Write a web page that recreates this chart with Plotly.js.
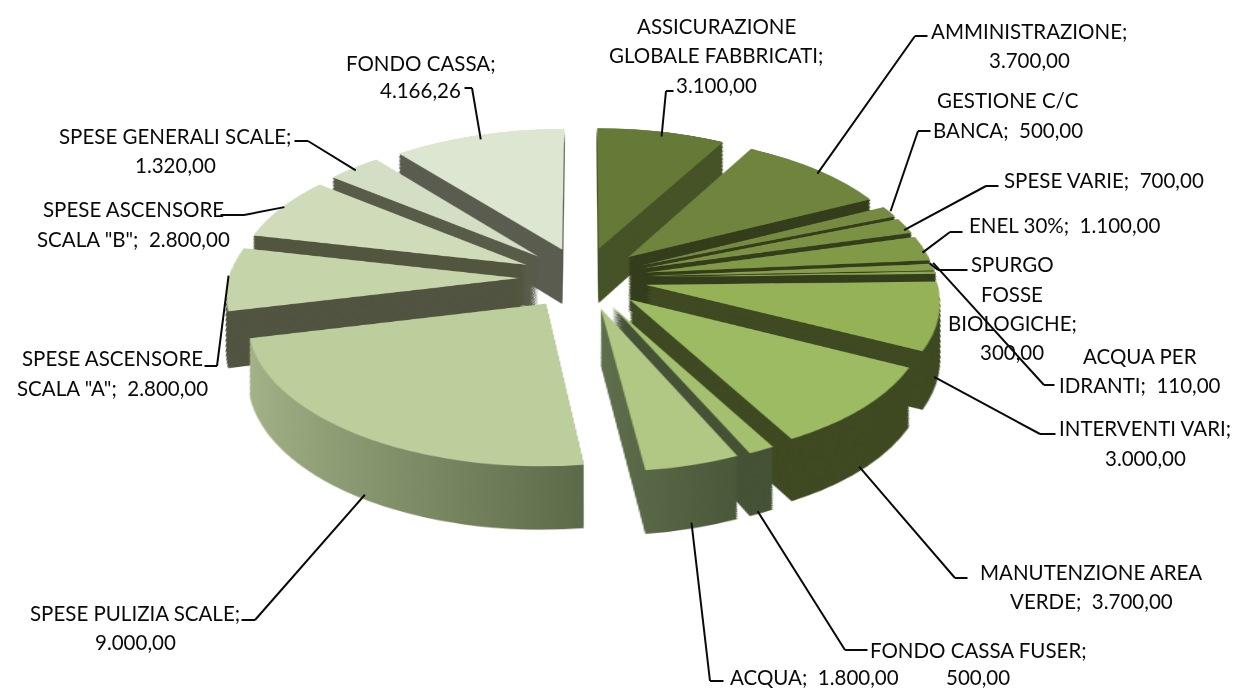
<!DOCTYPE html>
<html><head><meta charset="utf-8">
<script src="https://cdn.plot.ly/plotly-3.0.1.min.js"></script>
<style>html,body{margin:0;padding:0;background:#fff;overflow:hidden}#g{width:1235px;height:689px}</style>
</head><body><div id="g"></div>
<script>
const categories = ["ASSICURAZIONE GLOBALE FABBRICATI","AMMINISTRAZIONE","GESTIONE C/C BANCA","SPESE VARIE","ENEL 30%","SPURGO FOSSE BIOLOGICHE","ACQUA PER IDRANTI","INTERVENTI VARI","MANUTENZIONE AREA VERDE","FONDO CASSA FUSER","ACQUA","SPESE PULIZIA SCALE","SPESE ASCENSORE SCALA \"A\"","SPESE ASCENSORE SCALA \"B\"","SPESE GENERALI SCALE","FONDO CASSA"];
const values = [3100,3700,500,700,1100,300,110,3000,3700,500,1800,9000,2800,2800,1320,4166.26];
const topColors = ["#667a37","#6f853e","#768b41","#7b9244","#819a48","#879f4d","#8ca652","#95b356","#9cbb62","#a4bf6e","#b0c884","#bbce9b","#c5d4a9","#cfdbb9","#d4dec4","#dde6d0"];
const wallColors = ["#465326","#343d1c","#343d1c","#343d1c","#343d1c","#343d1c","#343d1c","#3f4a23","#3f4a23","#465235","#4c5a3d","#7f8e66","#505440","#53563f","#585c49","#5a5d50"];
const explode = 0.22;
const labelLines = [
 ["FONDO CASSA;",421,63],["4.166,26",421,90],
 ["ASSICURAZIONE",716,26],["GLOBALE FABBRICATI;",716,55],["3.100,00",716,85],
 ["AMMINISTRAZIONE;",1029,31],["3.700,00",1029,60],
 ["GESTIONE C/C",1008,100],["BANCA;\u00A0 500,00",1008,130],
 ["SPESE VARIE;\u00A0 700,00",1104,180],
 ["ENEL 30%;\u00A0 1.100,00",1065,225],
 ["SPURGO",1012,264],["FOSSE",1012,294],["BIOLOGICHE;",1012,323],["300,00",1012,352],
 ["ACQUA PER",1140,356],["IDRANTI;\u00A0 110,00",1140,385],
 ["INTERVENTI VARI;",1145,428],["3.000,00",1145,458],
 ["MANUTENZIONE AREA",1091,572],["VERDE;\u00A0 3.700,00",1091,601],
 ["FONDO CASSA FUSER;",978,650],["500,00",978,677],
 ["ACQUA;\u00A0 1.800,00",814,677],
 ["SPESE PULIZIA SCALE;",135,613],["9.000,00",135,642],
 ["SPESE ASCENSORE",112,358],["SCALA \"A\";\u00A0 2.800,00",112,388],
 ["SPESE ASCENSORE",133,209],["SCALA \"B\";\u00A0 2.800,00",133,239],
 ["SPESE GENERALI SCALE;",175,136],["1.320,00",175,165]
];
const leaders = [
 [[466,88],[472,88],[480,135]],
 [[672,91],[666,91],[662,132]],
 [[926,36],[915,36],[820,170]],
 [[929,131],[918,131],[892,207]],
 [[997,186],[986,186],[908,228]],
 [[961,232],[950,232],[926,250]],
 [[966,270],[938,270],[933,266]],
 [[1053,385],[1044,385],[936,266]],
 [[1054,434],[1040,434],[938,379]],
 [[966,578],[955,578],[862,470]],
 [[866,650],[845,650],[760,515]],
 [[722,681],[710,681],[692,527]],
 [[243,620],[255,620],[362,498]],
 [[206,366],[217,366],[228,280]],
 [[222,215],[244,215],[280,208]],
 [[296,141],[308,141],[352,168]]
];
const W=1235,H=689, layers=36, pieH=549, top0=20, depthLocal=86;
const screenCx=583, screenCy=278, persp=2400, tilt=61.3, zoom=1.29;
const sinTilt=Math.sin(tilt*Math.PI/180);
const traces=[];
for(let j=0;j<=layers;j++){
  const off=depthLocal*(1-j/layers);
  const f=1-off*zoom*sinTilt/persp;
  const mid=top0+pieH/2+off;
  const t=mid-pieH*f/2,b=mid+pieH*f/2;
  traces.push({type:'pie',labels:categories,values:values,sort:false,direction:'clockwise',rotation:0,
    pull:values.map(()=>explode),textinfo:'none',hoverinfo:'skip',showlegend:false,
    marker:{colors:j===layers?topColors:wallColors,line:{width:0}},
    domain:{x:[0,1],y:[(H-b)/H,(H-t)/H]}});
}
const ann=[];
const textFont={family:'Lato, sans-serif',size:20.5,color:'#0a0a0a'};
labelLines.forEach(l=>ann.push({text:l[0],x:l[1]/W,y:1-l[2]/H,xref:'paper',yref:'paper',xanchor:'center',yanchor:'middle',showarrow:false,font:textFont}));
const segment=(joint,tail,ext)=>{
  const dx=tail[0]-joint[0],dy=tail[1]-joint[1],len=Math.hypot(dx,dy),e=(len+ext)/len;
  ann.push({text:' ',font:{size:1},borderpad:0,borderwidth:0,width:1,height:1,x:joint[0]/W,y:1-joint[1]/H,xref:'paper',yref:'paper',
    axref:'pixel',ayref:'pixel',ax:dx*e,ay:dy*e,showarrow:true,arrowhead:0,arrowwidth:2,arrowcolor:'#0a0a0a',standoff:0,startstandoff:0});
};
leaders.forEach(p=>{segment(p[1],p[0],2);segment(p[1],p[2],5);});
Plotly.newPlot('g',traces,{width:W,height:H,margin:{l:0,r:0,t:0,b:0},paper_bgcolor:'rgba(0,0,0,0)',showlegend:false,annotations:ann},{displayModeBar:false,staticPlot:true}).then(gd=>{
  const svg=gd.querySelector('.main-svg');
  const cx=W/2, cy=top0+pieH/2;
  const ns='http://www.w3.org/2000/svg';
  const defs=document.createElementNS(ns,'defs');
  const mk=(id,a,b)=>{const g=document.createElementNS(ns,'linearGradient');g.id=id;
    [[0,a],[1,b]].forEach(s=>{const st=document.createElementNS(ns,'stop');st.setAttribute('offset',s[0]);st.setAttribute('stop-color',s[1]);g.appendChild(st);});defs.appendChild(g);};
  mk('wallPulizia','#a3b287','#5c6a49');mk('wallAcqua','#5f6e4b','#4a583a');
  svg.appendChild(defs);
  const tr=gd.querySelectorAll('.pielayer .trace');
  tr.forEach((t,j)=>{ if(j===layers) return;
    const s=t.querySelectorAll('.slice path.surface');
    if(s[11]) s[11].style.fill='url(#wallPulizia)';
    if(s[10]) s[10].style.fill='url(#wallAcqua)';
  });
  svg.style.transformOrigin=cx+'px '+cy+'px';
  svg.style.transform='translate('+(screenCx-cx)+'px,'+(screenCy-cy)+'px) perspective('+persp+'px) rotateX('+tilt+'deg) scale('+zoom+')';
});
</script></body></html>
